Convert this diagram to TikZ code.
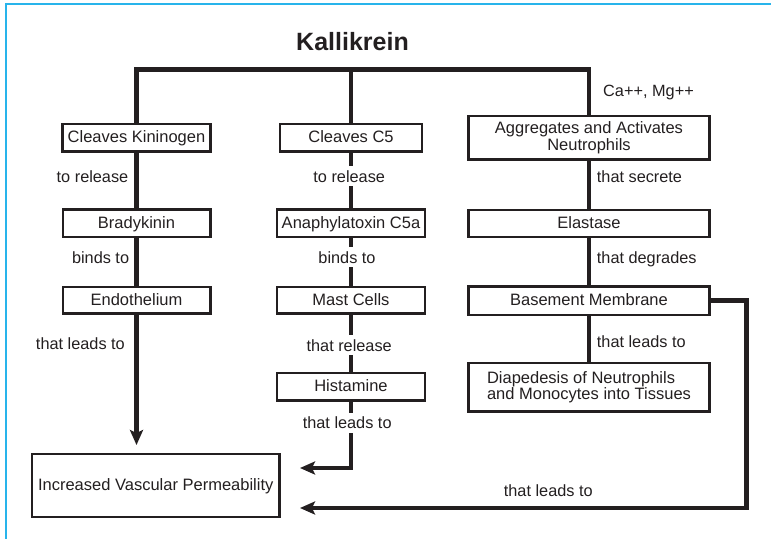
\documentclass[tikz,border=0pt]{standalone}
\usepackage{fontspec}
\setmainfont{Liberation Sans}
\usetikzlibrary{arrows.meta}
\definecolor{framecyan}{RGB}{40,180,235}
\definecolor{ink}{RGB}{35,31,32}
\begin{document}
\begin{tikzpicture}[x=1pt,y=-1pt,
  box/.style={draw=ink, text=ink, line width=2.5pt, inner sep=0pt,
    font=\fontsize{16.5}{16.5}\selectfont, anchor=center},
  onebox/.style={box, text height=12pt, text depth=2pt},
  lbl/.style={text=ink, inner sep=0pt, font=\fontsize{16.3}{16.3}\selectfont},
  onlink/.style={lbl, anchor=base, fill=white, inner sep=4pt},
  conn/.style={draw=ink, line width=4.8pt, line join=miter},
  arr/.style={conn, -{Stealth[length=15pt,width=13pt,inset=3pt]}},
  title/.style={text=ink, inner sep=0pt, font=\fontsize{25}{25}\selectfont\bfseries}
]
\useasboundingbox (0,0) rectangle (771,539);

% page frame (top and left rules)
\draw[framecyan, line width=1.8pt] (771,4.2) -- (5.8,4.2) -- (5.8,539);

\node[title] (kal) at (352.5,42) {Kallikrein};

% left column
\node[onebox, minimum width=148pt, minimum height=27.5pt] (kin)  at (136.5,137.7) {Cleaves Kininogen};
\node[onebox, minimum width=147.5pt, minimum height=27.5pt] (brad) at (136.5,223) {Bradykinin};
\node[onebox, minimum width=147.5pt, minimum height=26.8pt] (endo) at (136.5,300.3) {Endothelium};

% middle column
\node[onebox, minimum width=142pt, minimum height=27.5pt] (c5)   at (351,137.7) {Cleaves C5};
\node[onebox, minimum width=148pt, minimum height=27.5pt] (ana)  at (351,223) {Anaphylatoxin C5a};
\node[onebox, minimum width=148pt, minimum height=26.8pt] (mast) at (351,300.3) {Mast Cells};
\node[onebox, minimum width=148pt, minimum height=27.5pt] (hist) at (351,386.7) {Histamine};

% right column
\node[box, minimum width=241pt, minimum height=43.8pt, align=center] (agg) at (589,137.8) {Aggregates and Activates\\Neutrophils};
\node[onebox, minimum width=241pt, minimum height=26.8pt] (ela) at (589,223.6) {Elastase};
\node[onebox, minimum width=241pt, minimum height=28.5pt] (bm)  at (589,300.5) {Basement Membrane};
\node[box, minimum width=241pt, minimum height=48.5pt, align=left] (dia) at (589,387.2) {Diapedesis of Neutrophils\\and Monocytes into Tissues};

% common outcome
\node[onebox, minimum width=247.5pt, minimum height=63pt] (incr) at (155.7,485.5) {Increased Vascular Permeability};

% branching bar below the title
\coordinate (bar) at (0,69.3);
\draw[conn] (kin.north) -- (kin.north |- bar) -- (agg.north |- bar) -- (agg.north);
\draw[conn] (c5.north) -- (c5.north |- bar);

% left chain
\draw[conn] (kin.south) -- (brad.north);
\draw[conn] (brad.south) -- (endo.north);
\draw[arr, shorten >=7.7pt] (endo.south) -- (endo.south |- incr.north);

% middle chain
\draw[conn] (c5.south) -- (ana.north);
\draw[conn] (ana.south) -- (mast.north);
\draw[conn] (mast.south) -- (hist.north);
\coordinate (hTip) at (300,468);
\draw[arr] (hist.south) |- (hTip);

% right chain
\draw[conn] (agg.south) -- (ela.north);
\draw[conn] (ela.south) -- (bm.north);
\draw[conn] (bm.south) -- (dia.north);
\coordinate (rTurn) at (746.3,508);
\coordinate (bTip) at (300,508);
\draw[arr] (bm.east) -| (rTurn) -- (bTip);

% link labels
\node[lbl, anchor=base east] (lRel)  at (128.5,182) {to release};
\node[lbl, anchor=base east] (lBind) at (129.3,263) {binds to};
\node[lbl, anchor=base east] (lLead) at (125,349) {that leads to};

\node[onlink] (mRel)  at (349.2,182) {to release};
\node[onlink] (mBind) at (347,263) {binds to};
\node[onlink] (mHis)  at (349.2,351) {that release};
\node[onlink] (mLead) at (347.2,428.5) {that leads to};

\node[lbl, anchor=base west] (rIon)  at (603,96.5) {Ca++, Mg++};
\node[lbl, anchor=base west] (rSec)  at (596.7,182) {that secrete};
\node[lbl, anchor=base west] (rDeg)  at (596.7,263) {that degrades};
\node[lbl, anchor=base west] (rLead) at (596.7,347.5) {that leads to};

\node[lbl, anchor=base] (bLead) at (548.3,496) {that leads to};
\end{tikzpicture}
\end{document}
